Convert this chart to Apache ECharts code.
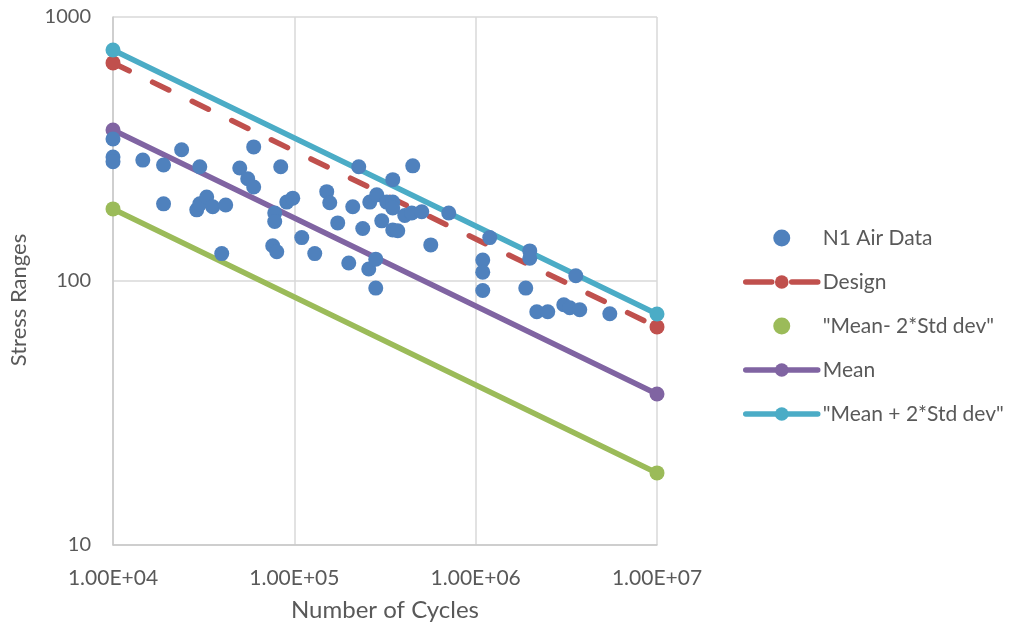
<!DOCTYPE html>
<html>
<head>
<meta charset="utf-8">
<script src="https://cdn.jsdelivr.net/npm/echarts@6/dist/echarts.min.js"></script>
<style>
  html, body { margin: 0; padding: 0; background: #ffffff; }
  #chart { width: 1020px; height: 635px; }
</style>
</head>
<body>
<div id="chart"></div>
<script>
// Fatigue test results: number of cycles vs stress range
const airCycles = [
  10000, 10000, 10000, 14600, 19000, 23900, 19000, 30100, 28960, 30100,
  32870, 35480, 41840, 39770, 50000, 59700, 55330, 59700, 84140, 77960,
  77960, 76000, 80000, 90800, 98000, 109900, 129600, 150900, 156800, 173500,
  199600, 210000, 226600, 238400, 260600, 257300, 281200, 281200, 284800, 303400,
  323300, 349000, 349000, 349000, 349000, 371800, 406400, 444300, 449800, 504300,
  565500, 710500, 1094000, 1094000, 1094000, 1196000, 1889000, 1988000, 1988000, 2173000,
  2498000, 3062000, 3304000, 3750000, 3566000, 5492000
];
const airStress = [
  345, 295, 283, 287, 275, 314, 196, 271, 186, 196,
  208, 191, 194, 127, 268, 322, 244, 227, 271, 181,
  168, 136, 129, 199, 206, 146, 127, 218, 198, 166,
  117, 191, 271, 158, 199, 111, 121, 94, 212, 169,
  199, 242, 199, 189, 156, 155, 177, 181, 273, 183,
  137, 181, 120, 108, 92, 146, 94, 130, 122, 76.5,
  76.5, 81.3, 79.2, 77.8, 104.7, 75.2
];

// S-N curves, defined by their end points
const curveCycles = [10000, 10000000];
const designStress = [670, 67];
const meanMinus2Stress = [187.5, 18.75];
const meanStress = [373, 37.3];
const meanPlus2Stress = [750, 75];

const xTickLabels = ['1.00E+04', '1.00E+05', '1.00E+06', '1.00E+07'];
const yTickLabels = ['10', '100', '1000'];

const seriesNames = ['N1 Air Data', 'Design', '"Mean- 2*Std dev"', 'Mean', '"Mean + 2*Std dev"'];
const colors = ['#4F81BD', '#C0504D', '#9BBB59', '#8064A2', '#4BACC6'];

const FONT = 'Lato, "Liberation Sans", sans-serif';
const TEXT = '#595959';

function pairs(xs, ys) { return xs.map((x, i) => [x, ys[i]]); }

function curve(name, color, ys, dashed) {
  return {
    name: name,
    type: 'line',
    data: pairs(curveCycles, ys),
    symbol: 'circle',
    symbolSize: 15,
    showSymbol: true,
    itemStyle: { color: color },
    lineStyle: { color: color, width: 5.5, type: dashed ? [18, 26] : 'solid', cap: 'round' },
    z: 2,
    animation: false
  };
}

const chart = echarts.init(document.getElementById('chart'), null, { renderer: 'canvas' });
chart.setOption({
  animation: false,
  textStyle: { fontFamily: FONT },
  grid: { left: 113, right: 363, top: 17, bottom: 90, containLabel: false },
  legend: {
    orient: 'vertical',
    left: 738,
    top: 221,
    itemWidth: 72,
    itemHeight: 17,
    itemGap: 20,
    lineStyle: { width: 5.5 },
    textStyle: { color: TEXT, fontSize: 21, fontFamily: FONT, lineHeight: 24 },
    data: [
      { name: seriesNames[0], icon: 'circle' },
      { name: seriesNames[1], lineStyle: { type: [26, 20], width: 5.5 } },
      { name: seriesNames[2], icon: 'circle' },
      { name: seriesNames[3] },
      { name: seriesNames[4] }
    ]
  },
  xAxis: {
    type: 'log',
    logBase: 10,
    min: 10000,
    max: 10000000,
    name: 'Number of Cycles',
    nameLocation: 'middle',
    nameGap: 53,
    nameTextStyle: { color: TEXT, fontSize: 24, fontFamily: FONT },
    axisLine: { show: true, lineStyle: { color: '#c8c8c8', width: 1.5 } },
    axisTick: { show: false },
    minorTick: { show: false },
    splitLine: { show: true, lineStyle: { color: '#d9d9d9', width: 1.5 } },
    axisLabel: {
      color: TEXT, fontSize: 21, fontFamily: FONT, margin: 23,
      formatter: v => xTickLabels[Math.round(Math.log10(v)) - 4]
    }
  },
  yAxis: {
    type: 'log',
    logBase: 10,
    min: 10,
    max: 1000,
    axisLine: { show: true, lineStyle: { color: '#c8c8c8', width: 1.5 } },
    axisTick: { show: false },
    splitLine: { show: true, lineStyle: { color: '#d9d9d9', width: 1.5 } },
    axisLabel: {
      color: TEXT, fontSize: 20, fontFamily: FONT, margin: 22,
      formatter: v => yTickLabels[Math.round(Math.log10(v)) - 1]
    }
  },
  graphic: [{
    type: 'text',
    x: 19,
    y: 300,
    rotation: Math.PI / 2,
    style: {
      text: 'Stress Ranges',
      fill: TEXT,
      font: '22px ' + FONT,
      align: 'center',
      verticalAlign: 'middle'
    }
  }],
  series: [
    {
      name: seriesNames[0],
      type: 'scatter',
      data: pairs(airCycles, airStress),
      symbol: 'circle',
      symbolSize: 15,
      itemStyle: { color: colors[0], opacity: 1 },
      z: 5,
      animation: false
    },
    curve(seriesNames[1], colors[1], designStress, true),
    curve(seriesNames[2], colors[2], meanMinus2Stress, false),
    curve(seriesNames[3], colors[3], meanStress, false),
    curve(seriesNames[4], colors[4], meanPlus2Stress, false)
  ]
});
</script>
</body>
</html>
